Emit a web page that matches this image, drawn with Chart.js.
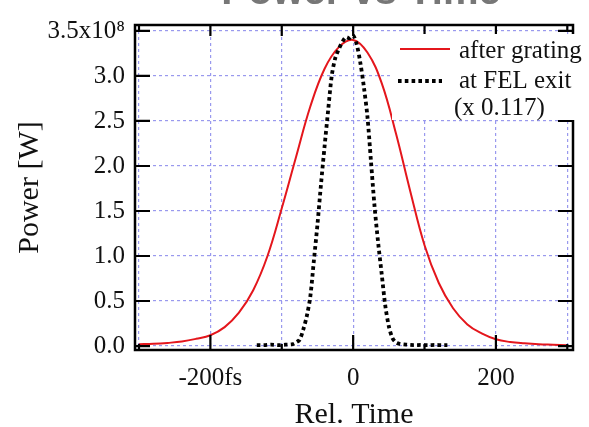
<!DOCTYPE html>
<html>
<head>
<meta charset="utf-8">
<script src="https://cdn.jsdelivr.net/npm/chart.js@4.4.1/dist/chart.umd.min.js"></script>
<style>
  html, body { margin: 0; padding: 0; background: #fff; }
  #wrap { width: 589px; height: 427px; position: relative; }
</style>
</head>
<body>
<div id="wrap"><canvas id="chart"></canvas></div>
<script>
// time in fs, power in units of 1e8 W
const gratingTime = [-300, -280, -260, -240, -220, -200, -180, -160, -140, -120, -100, -80, -60, -40, -20, 0,
  20, 40, 60, 80, 100, 120, 140, 160, 180, 200, 220, 240, 260, 280, 300];
const gratingPower = [0.02, 0.025, 0.035, 0.05, 0.08, 0.12, 0.21, 0.37, 0.62, 1.00, 1.53, 2.10, 2.66, 3.08, 3.32, 3.40,
  3.26, 2.92, 2.36, 1.72, 1.12, 0.70, 0.42, 0.24, 0.14, 0.075, 0.045, 0.03, 0.02, 0.015, 0.01];

const felTime = [-135, -125, -115, -105, -95, -85, -80, -75, -70, -65, -60, -55, -50, -45, -40, -35, -30, -25, -20,
  -15, -10, -5, 0, 5, 10, 15, 20, 25, 30, 35, 40, 45, 50, 55, 60, 65, 75, 85, 95, 105, 115, 125, 132];
const felPower = [0.01, 0.01, 0.015, 0.01, 0.015, 0.02, 0.04, 0.07, 0.18, 0.33, 0.55, 0.95, 1.35, 1.80, 2.22, 2.62, 3.00, 3.20, 3.30,
  3.38, 3.43, 3.42, 3.45, 3.35, 3.15, 2.88, 2.55, 2.05, 1.55, 1.15, 0.80, 0.45, 0.22, 0.09, 0.04, 0.025, 0.015, 0.01, 0.012, 0.01, 0.012, 0.01, 0.01];

const xLabelValues = [-200, 0, 200];
const xLabelTexts = ["-200fs", "0", "200"];
const legendLabels = ["after grating", "at FEL exit", "(x 0.117)"];

const RED = "rgb(228, 22, 28)";
const GRID = "rgba(135, 135, 235, 0.85)";
const SERIF = "'Liberation Serif', 'Times New Roman', serif";
const FEL_DASH = [3.6, 3.2];

function toPoints(xs, ys) {
  return xs.map((x, i) => ({ x, y: ys[i] }));
}

const framePlugin = {
  id: "frame",
  afterDatasetsDraw(chart) {
    const { ctx, chartArea: a, scales } = chart;
    ctx.save();
    ctx.strokeStyle = "#000";
    ctx.lineWidth = 2.5;
    ctx.strokeRect(a.left, a.top, a.right - a.left, a.bottom - a.top);
    ctx.lineWidth = 2.2;
    ctx.beginPath();
    scales.x.ticks.forEach((t) => {
      const px = scales.x.getPixelForValue(t.value);
      const major = t.value % 200 === 0;
      const bottomLen = major ? 15 : 6;
      const topLen = Math.abs(t.value) <= 200 ? 11 : 5;
      ctx.moveTo(px, a.bottom);
      ctx.lineTo(px, a.bottom - bottomLen);
      ctx.moveTo(px, a.top);
      ctx.lineTo(px, a.top + topLen);
    });
    scales.y.ticks.forEach((t) => {
      const py = scales.y.getPixelForValue(t.value);
      ctx.moveTo(a.left, py);
      ctx.lineTo(a.left + 15, py);
      ctx.moveTo(a.right, py);
      ctx.lineTo(a.right - 15, py);
    });
    ctx.stroke();
    ctx.restore();
  },
  afterDraw(chart) {
    const { ctx } = chart;
    ctx.save();
    // legend box
    ctx.fillStyle = "#fff";
    ctx.fillRect(392, 34, 197, 86);
    ctx.lineWidth = 2;
    ctx.strokeStyle = RED;
    ctx.beginPath();
    ctx.moveTo(400, 49);
    ctx.lineTo(450, 49);
    ctx.stroke();
    ctx.strokeStyle = "#000";
    ctx.lineWidth = 3.8;
    ctx.setLineDash(FEL_DASH);
    ctx.beginPath();
    ctx.moveTo(398, 81);
    ctx.lineTo(442, 81);
    ctx.stroke();
    ctx.setLineDash([]);
    ctx.fillStyle = "#111";
    ctx.font = "25px " + SERIF;
    ctx.textBaseline = "middle";
    ctx.textAlign = "left";
    ctx.fillText(legendLabels[0], 459, 51);
    ctx.fillText(legendLabels[1], 459, 81);
    ctx.fillText(legendLabels[2], 454, 108);
    // title, mostly above the visible area
    ctx.fillStyle = "#777";
    ctx.font = "bold 40px 'Liberation Sans', Arial, sans-serif";
    ctx.textAlign = "center";
    ctx.textBaseline = "alphabetic";
    ctx.fillText("Power vs Time", 361, 4);
    ctx.restore();
  },
};

new Chart(document.getElementById("chart"), {
  type: "line",
  data: {
    datasets: [
      {
        label: "at FEL exit",
        data: toPoints(felTime, felPower),
        borderColor: "#000",
        borderWidth: 3.8,
        borderDash: FEL_DASH,
        pointRadius: 0,
        tension: 0.3,
        fill: false,
      },
      {
        label: "after grating",
        data: toPoints(gratingTime, gratingPower),
        borderColor: RED,
        borderWidth: 2,
        pointRadius: 0,
        tension: 0.4,
        fill: false,
      },
    ],
  },
  options: {
    responsive: true,
    maintainAspectRatio: false,
    animation: false,
    layout: { padding: { top: 24, right: 16, left: 0, bottom: 0 } },
    plugins: {
      legend: { display: false },
      tooltip: { enabled: false },
    },
    scales: {
      x: {
        type: "linear",
        min: -305.6,
        max: 308,
        afterFit(scale) { scale.height = 77; },
        grid: { color: GRID, lineWidth: 1.2, drawTicks: false },
        border: { display: false, dash: [3, 3] },
        ticks: {
          stepSize: 100,
          includeBounds: false,
          autoSkip: false,
          maxRotation: 0,
          padding: 13,
          color: "#111",
          font: { family: SERIF, size: 25 },
          callback(value) {
            const i = xLabelValues.indexOf(value);
            return i >= 0 ? xLabelTexts[i] : "";
          },
        },
        title: {
          display: true,
          text: "Rel. Time",
          color: "#111",
          font: { family: SERIF, size: 30, lineHeight: 0.8 },
          padding: { top: 0, bottom: 0 },
        },
      },
      y: {
        min: -0.044,
        max: 3.566,
        afterFit(scale) { scale.width = 135; },
        grid: { color: GRID, lineWidth: 1.2, drawTicks: false },
        border: { display: false, dash: [3, 3] },
        ticks: {
          stepSize: 0.5,
          includeBounds: false,
          padding: 10,
          color: "#111",
          font: { family: SERIF, size: 25 },
          callback(value) {
            if (Math.abs(value - 3.5) < 1e-6) return "3.5x10⁸";
            return value.toFixed(1);
          },
        },
        title: {
          display: true,
          text: "Power [W]",
          color: "#111",
          font: { family: SERIF, size: 30, lineHeight: 1 },
          padding: { top: 15, bottom: 15 },
        },
      },
    },
  },
  plugins: [framePlugin],
});
</script>
</body>
</html>
